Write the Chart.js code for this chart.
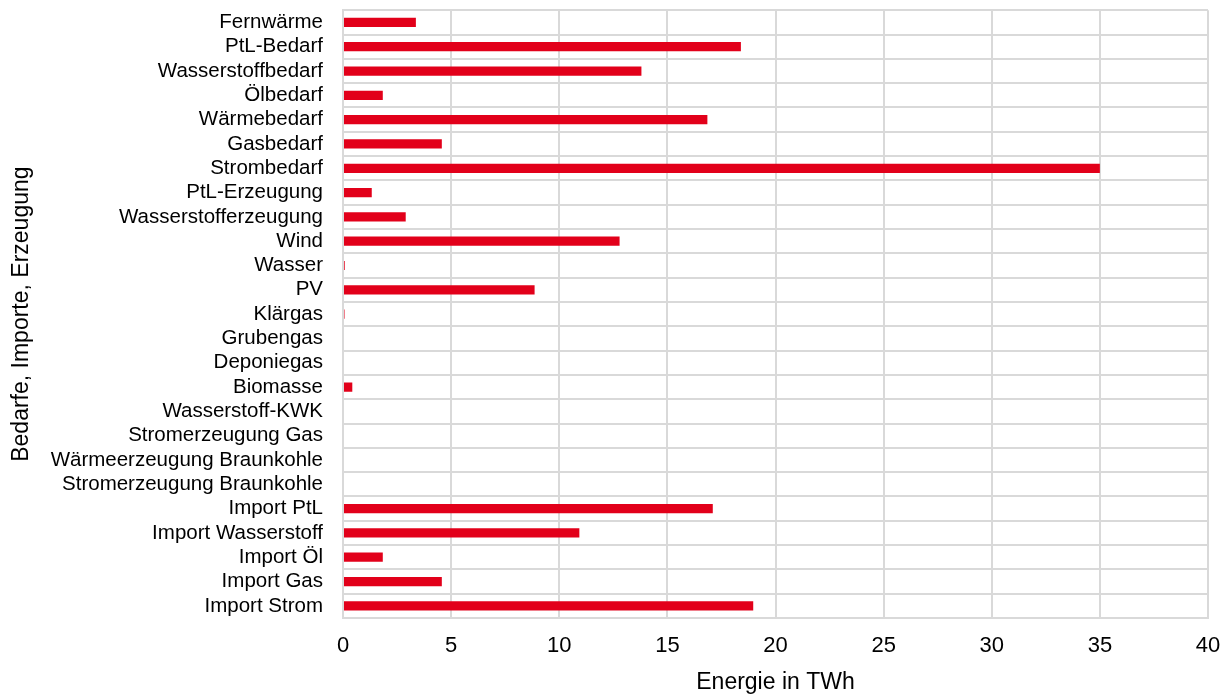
<!DOCTYPE html>
<html>
<head>
<meta charset="utf-8">
<script src="https://cdn.jsdelivr.net/npm/chart.js@4/dist/chart.umd.min.js"></script>
<style>
  html, body { margin: 0; padding: 0; background: #fff; }
  #wrap { width: 1232px; height: 696px; }
</style>
</head>
<body>
<div id="wrap"><canvas id="energyChart" width="1232" height="696"></canvas></div>
<script>
// Kategorien (von oben nach unten)
const categories = [
    'Fernwärme', 'PtL-Bedarf', 'Wasserstoffbedarf', 'Ölbedarf', 'Wärmebedarf',
    'Gasbedarf', 'Strombedarf', 'PtL-Erzeugung', 'Wasserstofferzeugung', 'Wind',
    'Wasser', 'PV', 'Klärgas', 'Grubengas', 'Deponiegas', 'Biomasse',
    'Wasserstoff-KWK', 'Stromerzeugung Gas', 'Wärmeerzeugung Braunkohle',
    'Stromerzeugung Braunkohle', 'Import PtL', 'Import Wasserstoff', 'Import Öl',
    'Import Gas', 'Import Strom'
];

// Energie in TWh
const energyValues = [
    3.37, 18.4, 13.8, 1.84, 16.85,
    4.57, 35.0, 1.33, 2.9, 12.79,
    0.08, 8.86, 0.07, 0, 0, 0.43,
    0, 0, 0,
    0, 17.1, 10.93, 1.84,
    4.57, 18.97
];

const xTicks = [0, 5, 10, 15, 20, 25, 30, 35, 40];

const FONT = 'Liberation Sans, Arial, sans-serif';
const GRID = '#d9d9d9';

const ctx = document.getElementById('energyChart');
new Chart(ctx, {
    type: 'bar',
    data: {
        labels: categories,
        datasets: [{
            data: energyValues,
            backgroundColor: '#e2001a',
            borderWidth: 0,
            barPercentage: 0.38,
            categoryPercentage: 1.0
        }]
    },
    options: {
        indexAxis: 'y',
        responsive: false,
        animation: false,
        layout: {
            padding: { top: 0, right: 0, bottom: 0, left: 8 }
        },
        plugins: {
            legend: { display: false },
            tooltip: { enabled: false }
        },
        scales: {
            x: {
                min: 0,
                max: 40,
                afterBuildTicks: function(scale) {
                    scale.ticks = xTicks.map(v => ({ value: v }));
                },
                afterFit: function(scale) {
                    scale.height = 696 - 618;
                    scale.paddingRight = 24;
                },
                grid: {
                    color: GRID,
                    lineWidth: 2,
                    drawTicks: false
                },
                border: { color: GRID, width: 2 },
                ticks: {
                    color: '#000',
                    padding: 15,
                    font: { family: FONT, size: 22 }
                },
                title: {
                    display: true,
                    text: 'Energie in TWh',
                    color: '#000',
                    padding: { top: 0, bottom: 0 },
                    font: { family: FONT, size: 23 }
                }
            },
            y: {
                afterFit: function(scale) {
                    scale.width = 343 - 8;
                },
                grid: {
                    color: GRID,
                    lineWidth: 2,
                    drawTicks: true,
                    tickLength: 20,
                    tickColor: 'rgba(0,0,0,0)'
                },
                border: { color: GRID, width: 2 },
                ticks: {
                    color: '#000',
                    padding: 0,
                    autoSkip: false,
                    font: { family: FONT, size: 20.5, lineHeight: 1 }
                },
                title: {
                    display: true,
                    text: 'Bedarfe, Importe, Erzeugung',
                    color: '#000',
                    padding: { top: 0, bottom: 0 },
                    font: { family: FONT, size: 23 }
                }
            }
        }
    }
});
</script>
</body>
</html>
